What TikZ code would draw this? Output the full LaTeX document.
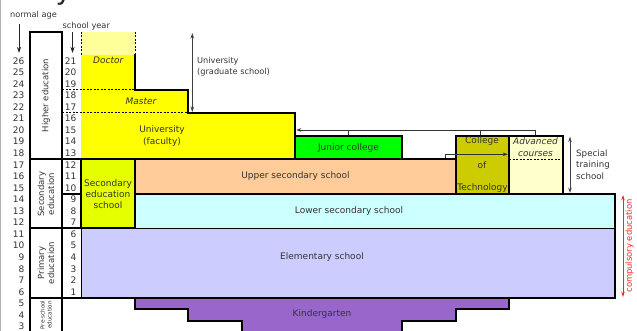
\documentclass[tikz,border=0pt]{standalone}
\usepackage{fontspec}
\setmainfont{DejaVu Sans}
\usetikzlibrary{arrows.meta}
\definecolor{pyellow}{HTML}{FFFF99}
\definecolor{uyellow}{HTML}{FFFF00}
\definecolor{jcgreen}{HTML}{00FF00}
\definecolor{peach}{HTML}{FFCC99}
\definecolor{olivec}{HTML}{CCCC00}
\definecolor{advy}{HTML}{FFFFCC}
\definecolor{secy}{HTML}{E6FF00}
\definecolor{cyanl}{HTML}{CCFFFF}
\definecolor{lav}{HTML}{CCCCFF}
\definecolor{purp}{HTML}{9966CC}
\definecolor{txt}{HTML}{333333}
\definecolor{redc}{HTML}{FF2020}
\begin{document}
\begin{tikzpicture}[x=1pt,y=-1pt,
  thickline/.style={line width=2.2pt, line join=miter, line cap=rect},
  thinline/.style={line width=0.8pt},
  dashline/.style={line width=0.7pt, dash pattern=on 2pt off 1.5pt},
  lbl/.style={font=\fontsize{9}{11.3}\selectfont, text=txt, align=center, inner sep=0pt},
  ilbl/.style={lbl, font=\fontsize{9}{11.3}\selectfont\itshape},
  sidelbl/.style={font=\fontsize{8.5}{10}\selectfont, text=txt, align=center, inner sep=0pt, rotate=90},
  numlbl/.style={font=\fontsize{9}{9}\selectfont, text=txt, inner sep=0pt, anchor=east},
  toplbl/.style={font=\fontsize{8.2}{10}\selectfont, text=txt, inner sep=0pt, anchor=west},
  rlbl/.style={font=\fontsize{8.7}{11.5}\selectfont, text=txt, align=left, inner sep=0pt, anchor=west},
  conn/.style={line width=0.8pt, draw=txt, -{Stealth[length=5pt,width=3.6pt]}},
  connline/.style={line width=0.8pt, draw=txt},
  dbl/.style={line width=0.9pt, draw=black!75, {Stealth[length=5.5pt,width=3.6pt]}-{Stealth[length=5.5pt,width=3.6pt]}},
  downarrow/.style={line width=0.9pt, draw=black!85, -{Stealth[length=6pt,width=4pt]}}
]
\useasboundingbox (0,0) rectangle (637,331);
\draw[gray!60, line width=1pt] (0.5,0) -- (0.5,331);
% partial title glyph
\node[inner sep=0pt, anchor=base, font=\fontsize{28}{28}\selectfont, text=black!85] (title) at (64,0) {y};

% fills
\fill[pyellow] (81,32) rectangle (135,55.05);
\fill[uyellow] (81,55.05) -- (135,55.05) -- (135,89.7) -- (188,89.7) -- (188,112.8) -- (295,112.8) -- (295,159) -- (81,159) -- cycle;
\fill[jcgreen] (295,135.9) rectangle (402,159);
\fill[peach] (135,159) rectangle (456,193.65);
\fill[olivec] (456,135.9) rectangle (509,193.65);
\fill[advy] (509,135.9) rectangle (563,193.65);
\fill[secy] (81,159) rectangle (135,228.3);
\fill[cyanl] (135,193.65) rectangle (615,228.3);
\fill[lav] (81,228.3) rectangle (615,297.6);
\filldraw[fill=purp, thickline] (135,297.6) -- (509,297.6) -- (509,309.15) -- (456,309.15) -- (456,320.7) -- (402,320.7) -- (402,345) -- (242,345) -- (242,320.7) -- (188,320.7) -- (188,309.15) -- (135,309.15) -- cycle;

% dashed lines
\draw[dashline] (62,89.7) -- (135,89.7);
\draw[dashline] (62,112.8) -- (188,112.8);
\draw[dashline] (81,32) -- (81,55.05);
\draw[dashline] (135,32) -- (135,55.05);
\draw[dashline] (509,159) -- (563,159);

% thin lines
\draw[thinline] (135,228.3) -- (615,228.3);
\draw[thinline] (81,228.3) -- (81,297.6);

% thick lines
\draw[thickline] (30,345) -- (30,32) -- (62,32) -- (62,345);
\draw[thickline] (135,55.05) -- (135,89.7) -- (188,89.7) -- (188,112.8) -- (295,112.8) -- (295,159);
\draw[thickline] (30,159) -- (456,159);
\draw[thickline] (295,135.9) rectangle (402,159);
\draw[thickline] (135,159) rectangle (456,193.65);
\draw[thickline] (456,135.9) rectangle (509,193.65);
\draw[thickline] (509,135.9) rectangle (563,193.65);
\draw[thickline] (62,193.65) -- (81,193.65);
\draw[thickline] (81,159) rectangle (135,228.3);
\draw[thickline] (135,193.65) -- (615,193.65) -- (615,297.6) -- (81,297.6);
\draw[thickline] (30,228.3) -- (81,228.3);
\draw[thickline] (30,297.6) -- (81,297.6);

% ages and school years
\foreach \a in {3,...,26} {
  \node[numlbl] at (24.5,{159+(17-\a)*11.55+5.775}) {\a};
}
\foreach \s in {1,...,21} {
  \node[numlbl] at (76.5,{159+(12-\s)*11.55+5.775}) {\s};
}

% header labels
\node[toplbl] (normalage) at (10,15) {normal age};
\node[toplbl] (schoolyear) at (62.5,26) {school year};
\coordinate (naend) at (19,53);
\coordinate (syend) at (72.5,53);
\draw[downarrow] (normalage.south west -| naend) ++(0,5) -- (naend);
\draw[downarrow] (72.5,32) -- (syend);

% side labels
\node[sidelbl] (higher) at (46,95.5) {Higher education};
\node[sidelbl] (second) at (46,194) {Secondary\\education};
\node[sidelbl] (primary) at (46,263) {Primary\\education};
\node[sidelbl, font=\fontsize{5.6}{7}\selectfont] (presch) at (46,315) {Pre-school\\education};

% box labels
\node[ilbl] (doctor) at (108.3,60.5) {Doctor};
\node[ilbl] (master) at (141,101.5) {Master};
\node[lbl] (faculty) at (162,136) {University\\(faculty)};
\node[lbl] (junior) at (348.5,147.8) {Junior college};
\node[lbl] (upper) at (295.5,176.3) {Upper secondary school};
\node[lbl] (secsch) at (108,194) {Secondary\\education\\school};
\node[lbl] (lower) at (349,211) {Lower secondary school};
\node[lbl] (elem) at (322,257) {Elementary school};
\node[lbl] (kinder) at (322,314) {Kindergarten};
\node[lbl] (college) at (482,140.7) {College};
\node[lbl] (of) at (482,165) {of};
\node[lbl] (tech) at (482.5,188) {Technology};
\node[ilbl] (adv) at (535.5,147) {Advanced\\courses};

% right labels
\node[rlbl, font=\fontsize{8.2}{11}\selectfont] (grad) at (197,66.5) {University\\(graduate school)};
\node[rlbl] (special) at (576,164.5) {Special\\training\\school};
\node[font=\fontsize{8.4}{10}\selectfont, text=redc, rotate=90, inner sep=0pt] (comp) at (629.5,246) {compulsory education};

% arrows at the sides
\coordinate (gradtop) at (192.3,33);
\coordinate (gradbot) at (192.3,112);
\draw[dbl] (gradtop) -- (gradbot);
\coordinate (sptop) at (570,136.5);
\coordinate (spbot) at (570,193);
\draw[dbl] (sptop) -- (spbot);
\coordinate (comptop) at (623,195);
\coordinate (compbot) at (623,297);
\draw[line width=0.9pt, draw=redc, {Stealth[length=5.5pt,width=3.6pt]}-{Stealth[length=5.5pt,width=3.6pt]}] (comptop) -- (compbot);

% transfer connectors
\coordinate (unir) at (296.3,130);
\coordinate (jctop) at (348.7,134.8);
\coordinate (cttop) at (480,134.8);
\coordinate (actop) at (535,134.8);
\draw[conn] (actop) |- (unir);
\draw[connline] (jctop) -- (jctop |- unir);
\draw[connline] (cttop) -- (cttop |- unir);
\coordinate (ustop) at (445,157.9);
\coordinate (acleft) at (507.8,154.3);
\draw[conn] (ustop) |- (acleft);
\end{tikzpicture}
\end{document}
